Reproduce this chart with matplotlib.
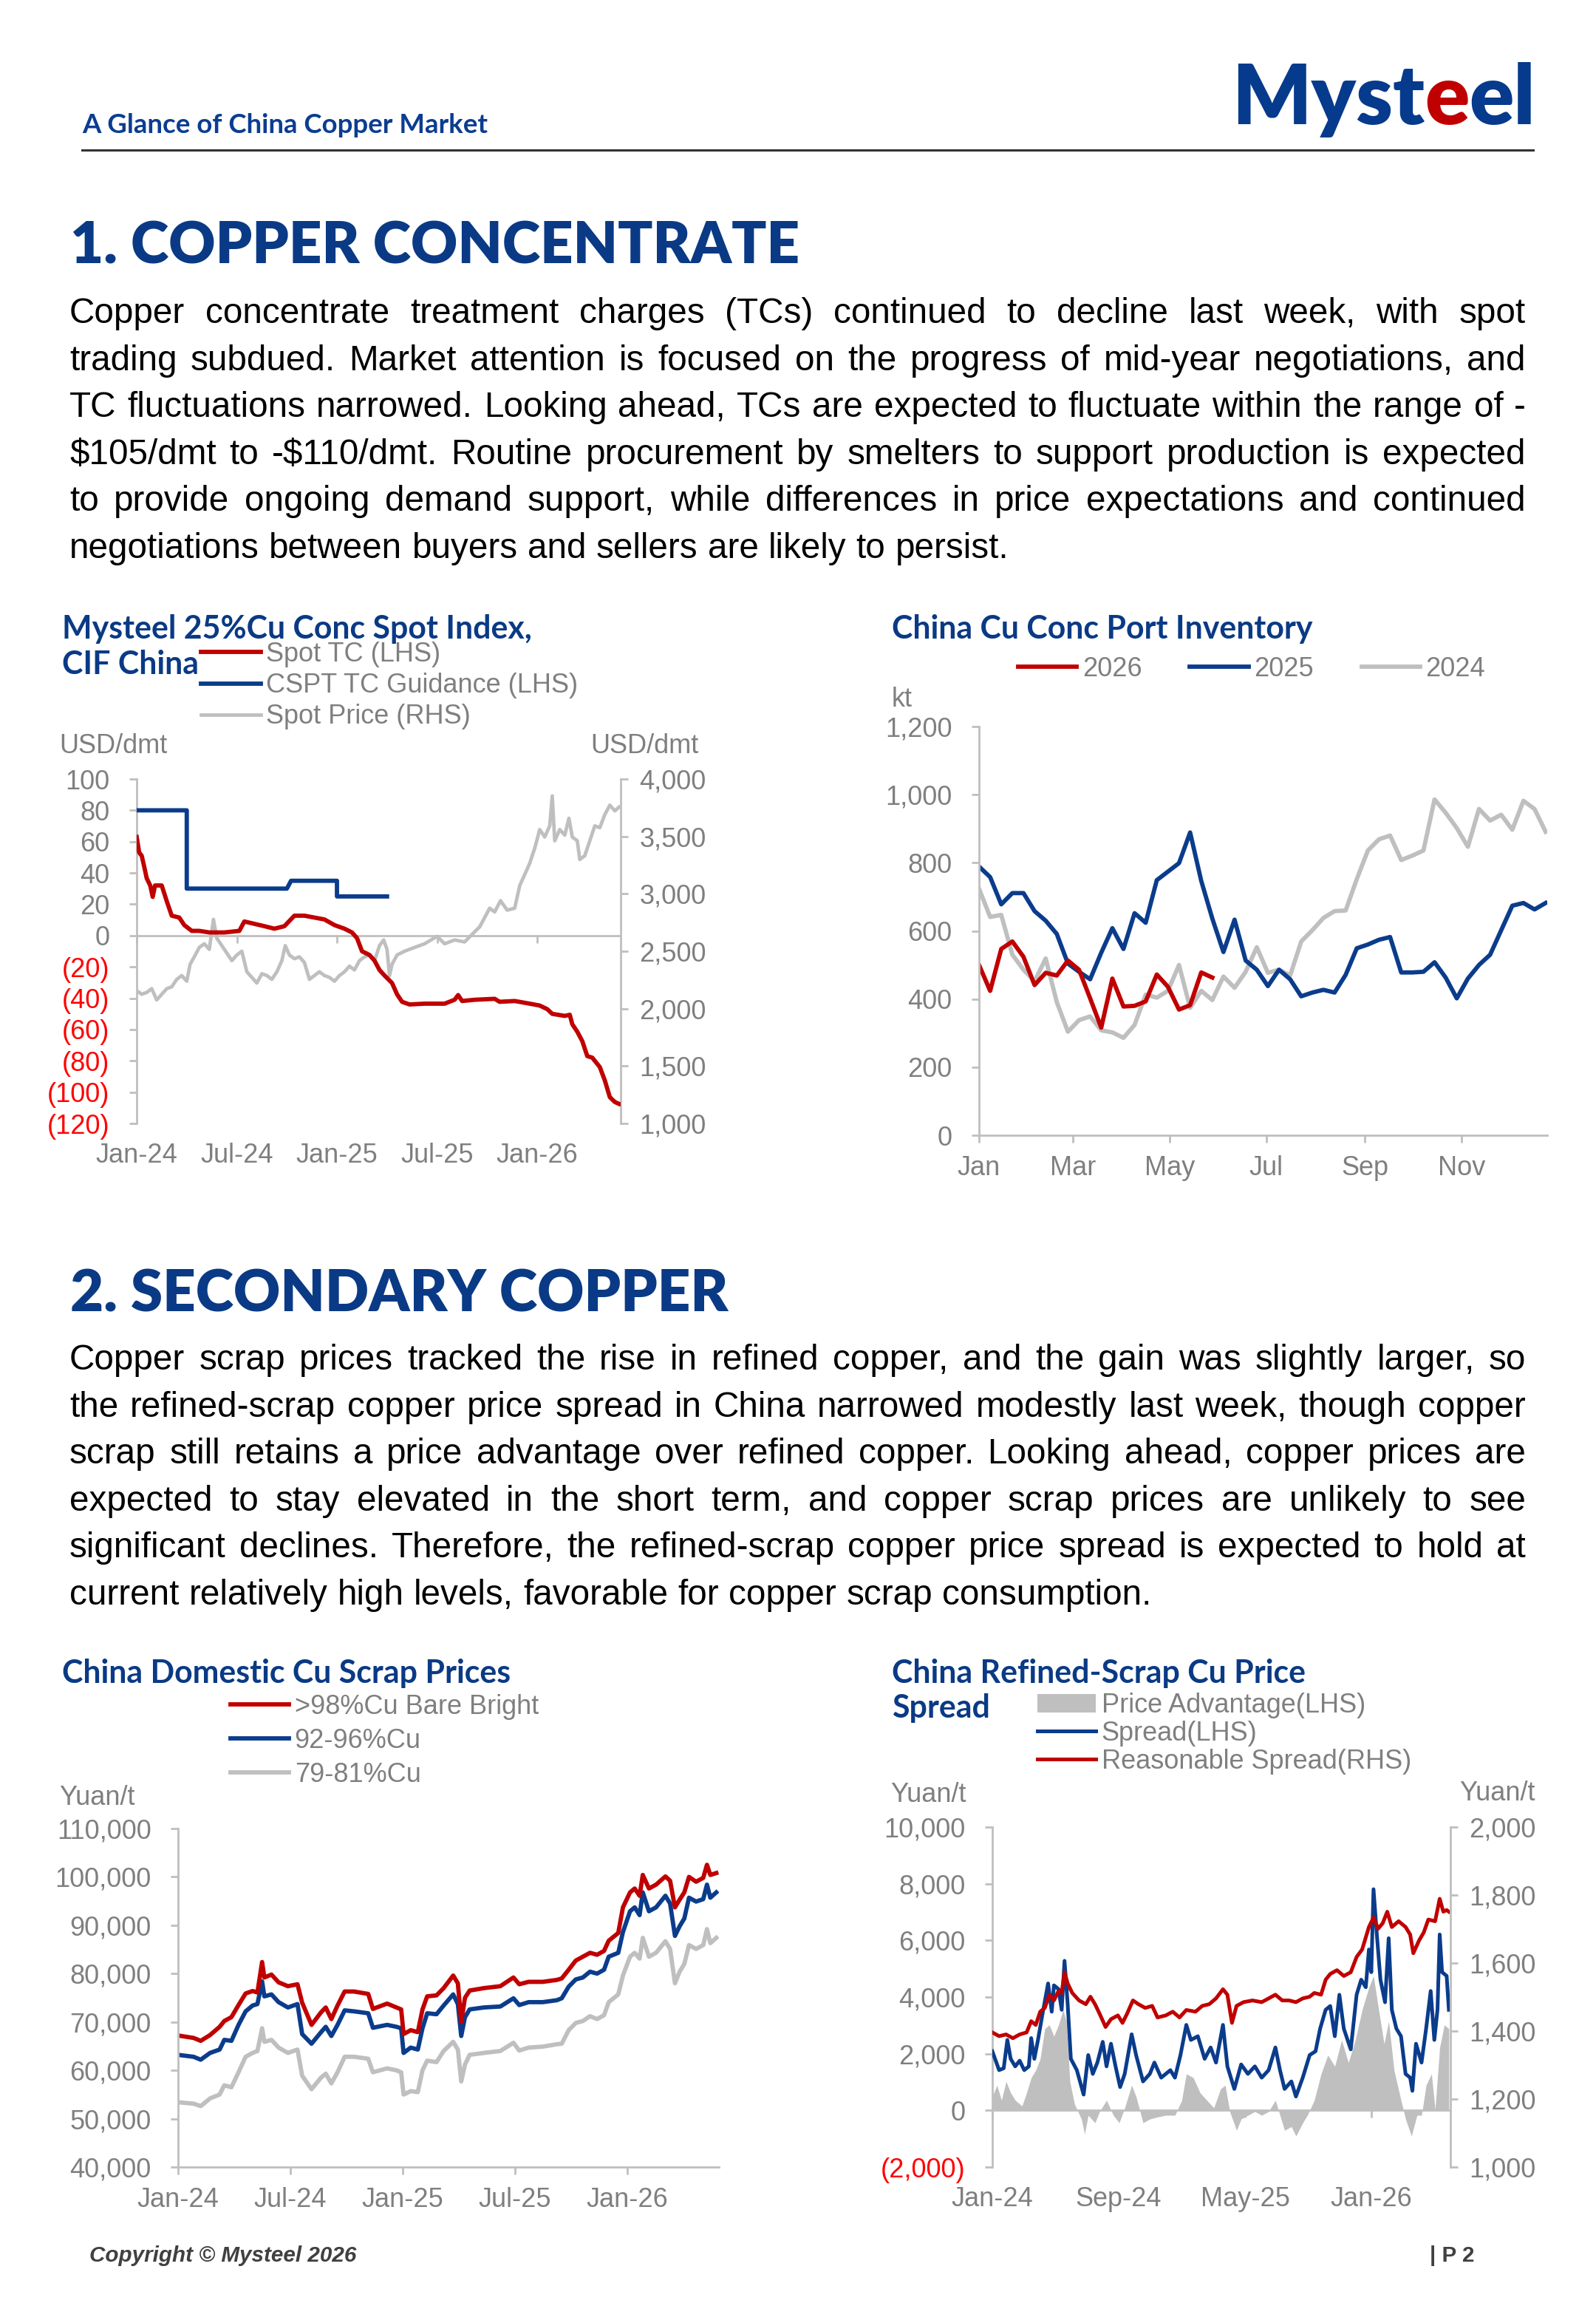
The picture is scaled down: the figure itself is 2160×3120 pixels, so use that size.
import numpy as np
import matplotlib
matplotlib.use('Agg')
from matplotlib import pyplot as plt
from matplotlib.patches import Patch

# ---------------- data ----------------
# chart 1: Mysteel 25%Cu conc spot index (x = months since Jan-24)
tc_month = [0, 0.15, 0.3, 0.45, 0.6, 0.81, 0.96, 1.1, 1.5, 1.8,
            2.1, 2.55, 2.85, 3.3, 3.75, 4.35, 5.25, 6.15, 6.45, 7.05,
            7.65, 8.25, 8.85, 9.45, 10.05, 10.65, 11.25, 11.85, 12.45, 12.9,
            13.2, 13.5, 13.95, 14.25, 14.55, 14.85, 15.3, 15.6, 15.9, 16.35,
            17.25, 18.45, 19.05, 19.26, 19.5, 20.25, 21.45, 21.75, 22.65, 23.55,
            24.15, 24.6, 24.9, 25.65, 25.95, 26.1, 26.4, 26.7, 27.0, 27.3,
            27.75, 28.05, 28.35, 28.65, 28.9]
spot_tc = [63, 53, 51, 44, 36.6, 32, 24.7, 32, 32, 22,
           12.7, 11.5, 6.7, 3, 3, 2, 2, 3, 9, 7.5,
           6, 4.4, 6, 12.7, 12.7, 11.5, 10.3, 6.7, 4.4, 2,
           -1.6, -10, -12.4, -16, -22, -25.5, -30.3, -37.5, -42.3, -44,
           -43.5, -43.5, -41, -38, -41.8, -41, -40.4, -42.3, -41.8, -43.5,
           -44.7, -47, -50, -51.3, -50.6, -56.6, -61.4, -67.4, -77, -78,
           -84, -92.5, -103.2, -106.3, -107.5]
cspt_month = [0, 3, 3, 9, 9.25, 12, 12, 15]
cspt_tc = [80, 80, 30, 30, 35, 35, 25, 25]
price_month = [0, 0.3, 0.6, 0.9, 1.2, 1.5, 1.8, 2.1, 2.4, 2.7,
               3.0, 3.2, 3.45, 3.75, 4.05, 4.35, 4.6, 4.8, 5.1, 5.4,
               5.7, 6.0, 6.3, 6.6, 6.9, 7.2, 7.5, 7.8, 8.1, 8.4,
               8.7, 8.9, 9.15, 9.45, 9.75, 10.05, 10.35, 10.65, 10.95, 11.25,
               11.55, 11.85, 12.15, 12.45, 12.75, 13.05, 13.35, 13.65, 13.95, 14.25,
               14.55, 14.8, 15.0, 15.15, 15.3, 15.6, 16.05, 16.65, 17.25, 18.0,
               18.45, 19.05, 19.65, 20.1, 20.55, 20.85, 21.15, 21.45, 21.8, 22.2,
               22.65, 22.95, 23.25, 23.55, 23.85, 24.15, 24.45, 24.75, 24.9, 25.05,
               25.35, 25.65, 25.9, 26.1, 26.4, 26.55, 26.85, 27.15, 27.45, 27.75,
               28.05, 28.35, 28.65, 28.9]
spot_price = [2157, 2125, 2141, 2174, 2076, 2125, 2174, 2190, 2255, 2288,
              2239, 2386, 2451, 2533, 2565, 2516, 2777, 2614, 2549, 2484,
              2418, 2467, 2500, 2321, 2272, 2223, 2304, 2288, 2255, 2321,
              2418, 2549, 2467, 2435, 2451, 2402, 2255, 2288, 2321, 2288,
              2272, 2239, 2288, 2321, 2370, 2337, 2418, 2451, 2467, 2418,
              2549, 2598, 2516, 2288, 2386, 2467, 2500, 2533, 2565, 2630,
              2565, 2598, 2581, 2647, 2712, 2793, 2875, 2842, 2940, 2858,
              2875, 3071, 3168, 3266, 3397, 3560, 3495, 3592, 3853, 3462,
              3560, 3511, 3658, 3495, 3462, 3299, 3332, 3462, 3592, 3576,
              3690, 3772, 3723, 3755]
tc_ticks = [100, 80, 60, 40, 20, 0, -20, -40, -60, -80, -100, -120]
price_ticks = [1000, 1500, 2000, 2500, 3000, 3500, 4000]
tc_xticks = [0, 6, 12, 18, 24]
tc_xlabels = ['Jan-24', 'Jul-24', 'Jan-25', 'Jul-25', 'Jan-26']

# chart 2: China Cu conc port inventory, weekly, kt
inv_2024 = [724, 641, 647, 530, 486, 452, 519, 391, 304, 338,
            349, 308, 302, 286, 324, 413, 404, 424, 500, 374,
            424, 397, 466, 433, 480, 552, 477, 486, 469, 569,
            602, 638, 658, 660, 752, 836, 869, 880, 808, 821,
            836, 986, 947, 902, 847, 958, 924, 941, 897, 982,
            958, 891]
inv_2025 = [789, 758, 678, 711, 711, 658, 630, 591, 504, 480,
            458, 536, 608, 547, 652, 624, 749, 774, 799, 889,
            747, 636, 538, 633, 513, 486, 438, 486, 458, 408,
            419, 427, 419, 471, 549, 560, 574, 582, 478, 478,
            480, 508, 463, 402, 460, 500, 530, 602, 674, 682,
            663, 682]
inv_2026 = [500, 424, 547, 569, 524, 441, 477, 469, 513, 486,
            402, 316, 460, 378, 380, 393, 472, 436, 369, 382,
            478, 463]
inv_ticks = [0, 200, 400, 600, 800, 1000, 1200]
month_days = [0, 59, 120, 181, 243, 304]
month_names = ['Jan', 'Mar', 'May', 'Jul', 'Sep', 'Nov']

# chart 3: China domestic Cu scrap prices, thousand yuan/t
scrap_month = [0, 0.83, 1.21, 1.71, 2.22, 2.47, 2.85, 3.23, 3.61, 3.98,
               4.24, 4.49, 4.61, 4.99, 5.37, 5.87, 6.38, 6.63, 7.13, 7.64,
               7.89, 8.19, 8.52, 8.9, 9.4, 10.16, 10.41, 11.17, 11.67, 11.92,
               12.05, 12.43, 12.81, 13.06, 13.31, 13.81, 14.19, 14.7, 14.95, 15.13,
               15.33, 15.58, 16.34, 17.22, 17.92, 18.23, 18.73, 19.49, 20.24, 20.5,
               20.87, 21.25, 21.63, 22.01, 22.39, 22.76, 23.01, 23.52, 23.77, 24.15,
               24.4, 24.66, 24.83, 25.16, 25.54, 26.04, 26.29, 26.55, 26.8, 27.05,
               27.3, 27.68, 28.06, 28.26, 28.44, 28.76]
bare_bright = [67.2, 66.7, 66.1, 67.3, 69.0, 70.2, 71.0, 73.5, 75.9, 76.4,
               76.1, 82.4, 79.2, 79.8, 78.2, 77.4, 77.8, 74.0, 69.4, 72.0,
               73.0, 70.6, 73.4, 76.3, 76.3, 75.8, 72.7, 73.8, 73.0, 72.6,
               67.5, 68.3, 67.9, 72.6, 75.3, 75.5, 77.0, 79.6, 78.0, 70.0,
               75.0, 76.5, 77.0, 77.4, 79.2, 77.8, 78.3, 78.3, 78.7, 79.0,
               80.8, 82.7, 83.5, 84.3, 83.9, 84.7, 86.8, 88.4, 93.7, 96.8,
               97.6, 96.1, 100.4, 97.6, 98.4, 100.1, 99.2, 93.7, 95.3, 96.8,
               100.0, 99.0, 99.8, 102.5, 100.4, 100.8]
cu_92_96 = [63.2, 62.8, 62.2, 63.6, 64.3, 66.3, 66.1, 69.4, 72.2, 73.4,
            73.7, 78.4, 75.3, 75.7, 74.1, 73.0, 73.7, 67.5, 65.5, 67.9,
            69.0, 67.1, 69.4, 72.4, 72.2, 71.8, 68.8, 69.4, 69.0, 68.7,
            63.6, 64.7, 64.3, 68.7, 71.8, 71.6, 73.4, 75.7, 73.7, 67.1,
            71.0, 72.6, 73.0, 73.2, 74.9, 73.5, 74.1, 74.1, 74.5, 74.9,
            77.3, 78.8, 79.2, 80.4, 80.0, 80.8, 83.5, 84.3, 88.6, 92.9,
            93.7, 92.1, 96.8, 92.9, 93.7, 96.1, 94.5, 87.8, 89.8, 91.4,
            95.7, 94.9, 95.4, 98.4, 95.7, 96.8]
cu_79_81 = [53.4, 53.1, 52.6, 54.2, 55.0, 56.9, 56.5, 59.6, 62.8, 63.6,
            64.0, 68.7, 65.9, 66.3, 64.7, 63.6, 64.3, 58.9, 56.1, 58.5,
            59.3, 57.3, 59.6, 62.8, 62.8, 62.4, 59.6, 60.4, 60.0, 59.6,
            55.0, 55.7, 55.5, 60.0, 62.0, 61.7, 64.0, 65.9, 64.3, 57.7,
            61.2, 63.2, 63.6, 64.0, 65.7, 64.1, 64.7, 64.9, 65.4, 65.5,
            68.3, 69.8, 70.2, 71.2, 70.6, 71.4, 74.1, 75.7, 79.6, 83.5,
            84.3, 83.1, 87.4, 83.5, 84.3, 86.7, 85.1, 78.0, 80.4, 82.0,
            85.9, 85.1, 85.9, 89.2, 86.3, 87.4]
scrap_ticks = [40, 50, 60, 70, 80, 90, 100, 110]
scrap_xticks = [0, 6, 12, 18, 24]
scrap_xlabels = ['Jan-24', 'Jul-24', 'Jan-25', 'Jul-25', 'Jan-26']

# chart 4: refined-scrap price spread, yuan/t
spread_month = [0, 0.43, 0.72, 0.95, 1.16, 1.45, 1.73, 2.02, 2.31, 2.46,
                2.66, 2.89, 3.18, 3.53, 3.76, 3.9, 4.19, 4.39, 4.57, 4.77,
                4.97, 5.35, 5.78, 6.07, 6.36, 6.65, 6.99, 7.23, 7.51, 7.8,
                8.09, 8.38, 8.82, 9.1, 9.54, 9.97, 10.26, 10.69, 11.27, 11.56,
                11.91, 12.28, 12.57, 13.01, 13.44, 13.82, 14.16, 14.6, 14.88, 15.32,
                15.75, 16.18, 16.62, 17.05, 17.49, 17.92, 18.21, 18.5, 18.93, 19.22,
                19.65, 20.09, 20.46, 20.75, 21.1, 21.39, 21.68, 21.97, 22.25, 22.69,
                23.06, 23.35, 23.64, 23.84, 23.99, 24.13, 24.34, 24.57, 24.86, 25.09,
                25.29, 25.58, 25.87, 26.16, 26.45, 26.59, 26.82, 27.17, 27.46, 27.75,
                27.98, 28.18, 28.32, 28.47, 28.76, 28.9]
spread = [2086, 1420, 1488, 2486, 1820, 1554, 1754, 1420, 1554, 2552,
          1820, 2486, 3417, 4480, 3483, 4413, 4280, 3550, 5278, 3750,
          1820, 1420, 557, 1953, 1288, 1688, 2419, 1554, 2353, 1554,
          823, 1288, 2685, 1953, 1022, 1288, 1688, 1155, 1420, 1155,
          1953, 3017, 2486, 2618, 1820, 2220, 1688, 3017, 1554, 757,
          1621, 1288, 1554, 1155, 1420, 2220, 1420, 757, 1022, 490,
          1155, 1953, 2086, 2884, 3550, 3683, 2618, 4081, 2884, 2153,
          4081, 4613, 4347, 5678, 4879, 7806, 6210, 4613, 3816, 6077,
          3550, 2884, 2618, 1288, 1155, 690, 2353, 1688, 2884, 4214,
          2486, 3550, 6210, 4879, 4746, 3550]
adv_month = [0, 0.29, 0.58, 0.87, 1.16, 1.45, 1.88, 2.17, 2.46, 2.75,
             3.03, 3.32, 3.61, 3.9, 4.19, 4.48, 4.68, 4.91, 5.2, 5.64,
             5.84, 6.07, 6.5, 6.79, 7.23, 7.66, 8.03, 8.38, 8.82, 9.1,
             9.54, 9.97, 10.4, 10.98, 11.56, 11.99, 12.28, 12.72, 13.15, 13.58,
             14.02, 14.45, 14.74, 15.03, 15.46, 15.75, 16.18, 16.62, 17.05, 17.49,
             17.92, 18.21, 18.5, 18.93, 19.22, 19.65, 19.94, 20.38, 20.81, 21.24,
             21.68, 22.11, 22.54, 22.98, 23.41, 23.84, 24.13, 24.42, 24.8, 25.09,
             25.43, 25.87, 26.16, 26.53, 26.88, 27.17, 27.46, 27.8, 28.03, 28.32,
             28.61, 28.9]
advantage = [490, 890, 357, 1022, 623, 357, 157, 623, 1155, 1420,
             1820, 2884, 3017, 2618, 3017, 3550, 3150, 1022, 224, -306,
             -838, -173, -439, -40, 357, -173, -439, 90, 890, 490,
             -439, -306, -240, -173, -173, 357, 1288, 1155, 623, 357,
             90, 757, 890, -40, -705, -306, -173, -40, -173, -40,
             357, -173, -705, -572, -905, -439, -173, 357, 1288, 1953,
             1554, 2486, 1688, 2486, 3550, 4347, 4746, 3683, 2353, 3150,
             1420, 357, -306, -905, -173, -173, 890, 1288, 27, 2220,
             3017, 2884]
reas_month = [0, 0.43, 0.87, 1.3, 1.73, 2.17, 2.46, 2.75, 3.03, 3.32,
              3.61, 3.9, 4.19, 4.39, 4.57, 4.77, 5.06, 5.49, 5.92, 6.21,
              6.5, 6.79, 7.17, 7.51, 7.95, 8.24, 8.53, 8.9, 9.25, 9.68,
              10.12, 10.46, 10.98, 11.42, 11.85, 12.28, 12.86, 13.29, 13.73, 14.16,
              14.6, 14.88, 15.17, 15.46, 15.9, 16.47, 17.05, 17.49, 17.92, 18.35,
              18.79, 19.22, 19.65, 20.09, 20.38, 20.81, 21.1, 21.39, 21.82, 22.25,
              22.69, 23.06, 23.41, 23.84, 24.13, 24.42, 24.71, 25.0, 25.29, 25.72,
              26.16, 26.45, 26.65, 27.02, 27.31, 27.6, 28.03, 28.32, 28.55, 28.76,
              28.9]
reasonable = [1396, 1385, 1390, 1379, 1390, 1396, 1429, 1418, 1457, 1468,
              1507, 1490, 1518, 1512, 1573, 1540, 1512, 1490, 1479, 1501,
              1479, 1451, 1412, 1435, 1446, 1424, 1451, 1490, 1479, 1468,
              1474, 1440, 1446, 1457, 1440, 1462, 1457, 1474, 1479, 1496,
              1523, 1507, 1424, 1474, 1485, 1490, 1485, 1496, 1507, 1490,
              1490, 1485, 1496, 1501, 1512, 1507, 1551, 1568, 1579, 1562,
              1573, 1618, 1640, 1706, 1734, 1701, 1717, 1751, 1706, 1723,
              1706, 1684, 1629, 1667, 1690, 1728, 1723, 1789, 1751, 1756,
              1751]
spread_ticks = [-2000, 0, 2000, 4000, 6000, 8000, 10000]
reas_ticks = [1000, 1200, 1400, 1600, 1800, 2000]
spread_xticks = [0, 8, 16, 24]
spread_xlabels = ['Jan-24', 'Sep-24', 'May-25', 'Jan-26']

para1 = ["Copper concentrate treatment charges (TCs) continued to decline last week, with spot",
         "trading subdued. Market attention is focused on the progress of mid-year negotiations, and",
         "TC fluctuations narrowed. Looking ahead, TCs are expected to fluctuate within the range of -",
         "$105/dmt to -$110/dmt. Routine procurement by smelters to support production is expected",
         "to provide ongoing demand support, while differences in price expectations and continued",
         "negotiations between buyers and sellers are likely to persist."]
para2 = ["Copper scrap prices tracked the rise in refined copper, and the gain was slightly larger, so",
         "the refined-scrap copper price spread in China narrowed modestly last week, though copper",
         "scrap still retains a price advantage over refined copper. Looking ahead, copper prices are",
         "expected to stay elevated in the short term, and copper scrap prices are unlikely to see",
         "significant declines. Therefore, the refined-scrap copper price spread is expected to hold at",
         "current relatively high levels, favorable for copper scrap consumption."]

# ---------------- style ----------------
W, H = 2160, 3120
NAVY = '#0A3A85'
RED = '#C00000'
BLUE = '#0B3C8C'
LGREY = '#BFBFBF'
TGREY = '#7F7F7F'
BODY = 'Liberation Sans'
HEAD = 'Lato'
FS = 26  # chart text size, pt
LW = 4.2

plt.rcParams['font.family'] = ['Liberation Sans', 'DejaVu Sans']

fig = plt.figure(figsize=(W / 100, H / 100), dpi=100)
ov = fig.add_axes([0, 0, 1, 1])
ov.set_xlim(0, W)
ov.set_ylim(H, 0)
ov.axis('off')
r = fig.canvas.get_renderer()


def width_of(t):
    return t.get_window_extent(r).width


def measure(s, fs=10, **kw):
    t = ov.text(0, 0, s, fontsize=fs, parse_math=False, **kw)
    w = width_of(t)
    t.remove()
    return w


def fit(s, width, **kw):
    return 10 * width / measure(s, **kw)


def put(x, y, s, fs, cap=0.72, **kw):
    # y is the middle of the capitals
    return ov.text(x, y + cap * fs * 100 / 72 / 2, s, fontsize=fs, va='baseline',
                   parse_math=False, **kw)


def paragraph(lines, y0, step, fs, x0=94, x1=2065):
    sp = measure('a a', fs, family=BODY) - measure('aa', fs, family=BODY)
    for i, line in enumerate(lines):
        words = [put(0, y0 + i * step, w, fs, cap=0.716, family=BODY, color='black')
                 for w in line.split()]
        ws = [width_of(t) for t in words]
        gap = sp if i == len(lines) - 1 else (x1 - x0 - sum(ws)) / (len(words) - 1)
        x = x0
        for t, w in zip(words, ws):
            t.set_x(x)
            x += w + gap


def fmt(v):
    return f'({abs(v):,})' if v < 0 else f'{v:,}'


def chart_ax(x0, x1, y0, y1):
    return fig.add_axes([x0 / W, 1 - y1 / H, (x1 - x0) / W, (y1 - y0) / H])


def y_axis(ax, side, ticks, labels, pad):
    for s in ax.spines.values():
        s.set_visible(False)
    ax.spines[side].set_visible(True)
    ax.spines[side].set_color(LGREY)
    ax.spines[side].set_linewidth(2)
    ax.set_yticks(ticks)
    ax.set_yticklabels(labels)
    ax.tick_params(axis='y', length=7.2, width=2, color=LGREY, labelcolor=TGREY,
                   labelsize=FS, pad=pad)
    for lab, v in zip(ax.get_yticklabels(), ticks):
        if v < 0:
            lab.set_color('#FF0000')


def x_axis(ax, ticks, labels, spine=True):
    ax.set_xticks(ticks)
    ax.set_xticklabels(labels)
    if spine:
        ax.spines['bottom'].set_visible(True)
        ax.spines['bottom'].set_color(LGREY)
        ax.spines['bottom'].set_linewidth(2)
        ax.tick_params(axis='x', length=7.2, width=2, color=LGREY, labelcolor=TGREY,
                       labelsize=FS, pad=12)
    else:
        ax.tick_params(axis='x', length=0, labelcolor=TGREY, labelsize=FS, pad=19)


def zero_line(ax, ticks):
    ax.axhline(0, color=LGREY, lw=2, zorder=1)
    ax.plot(ticks, [0] * len(ticks), ls='none', marker=3, ms=7.2, mew=2,
            color=LGREY, clip_on=False, zorder=1)


# ---------------- page text ----------------
put(111, 167, 'A Glance of China Copper Market',
    fit('A Glance of China Copper Market', 551, family=HEAD, weight='bold'),
    family=HEAD, weight='bold', color='#0B3D91')

fs_logo = fit('Mysteel', 414, family=HEAD, weight='heavy')
x = 1667
for part, c in [('Myst', '#063A8C'), ('e', RED), ('el', '#063A8C')]:
    t = ov.text(x, 168, part, fontsize=fs_logo, family=HEAD, weight='heavy', color=c, va='baseline')
    x += width_of(t)

ov.plot([111, 2075], [203, 203], color='#333333', lw=2.2)

fs_h = fit('1. COPPER CONCENTRATE', 985, family=HEAD, weight='heavy')
put(95, 328, '1. COPPER CONCENTRATE', fs_h, family=HEAD, weight='heavy', color=NAVY)
put(95, 1746, '2. SECONDARY COPPER', fs_h, family=HEAD, weight='heavy', color=NAVY)

fs_body = fit(para1[-1], 1273, family=BODY)
paragraph(para1, 420, 63.6, fs_body)
paragraph(para2, 1836, 63.6, fs_body)

fs_t = fit('China Cu Conc Port Inventory', 571, family=HEAD, weight='bold')
tkw = dict(family=HEAD, weight='bold', color=NAVY)
put(84, 849, 'Mysteel 25%Cu Conc Spot Index,', fs_t, **tkw)
put(84, 897, 'CIF China', fs_t, **tkw)
put(1207, 849, 'China Cu Conc Port Inventory', fs_t, **tkw)
put(84, 2262, 'China Domestic Cu Scrap Prices', fs_t, **tkw)
put(1207, 2262, 'China Refined-Scrap Cu Price', fs_t, **tkw)
put(1207, 2309, 'Spread', fs_t, **tkw)

put(80, 1006, 'USD/dmt', FS, cap=0.716, color=TGREY)
put(945, 1006, 'USD/dmt', FS, cap=0.716, color=TGREY, ha='right')
put(1207, 943, 'kt', FS, cap=0.716, color=TGREY)
put(80, 2429, 'Yuan/t', FS, cap=0.716, color=TGREY)
put(1205, 2425, 'Yuan/t', FS, cap=0.716, color=TGREY)
put(2078, 2423, 'Yuan/t', FS, cap=0.716, color=TGREY, ha='right')

fs_f = fit('Copyright © Mysteel 2026', 362, family=BODY, weight='bold', style='italic')
put(121, 3049, 'Copyright © Mysteel 2026', fs_f, family=BODY, weight='bold', style='italic', color='#404040')
put(1935, 3049, '| P 2', fs_f, family=BODY, weight='bold', color='#404040')

leg_kw = dict(loc='upper left', bbox_transform=ov.transData, frameon=False, borderpad=0,
              borderaxespad=0, fontsize=FS, labelcolor=TGREY, handletextpad=0.2)

# ---------------- chart 1 ----------------
ax1 = chart_ax(185, 840, 1054, 1520)
ax1r = ax1.twinx()
ax1.set_zorder(ax1r.get_zorder() + 1)
ax1.patch.set_visible(False)
l_tc, = ax1.plot(tc_month, spot_tc, color=RED, lw=LW, zorder=3)
l_cs, = ax1.plot(cspt_month, cspt_tc, color=BLUE, lw=LW, zorder=3)
l_px, = ax1r.plot(price_month, spot_price, color=LGREY, lw=3.4)
ax1.set_xlim(0, 29)
ax1.set_ylim(-120, 100)
ax1r.set_ylim(1000, 4000)
y_axis(ax1, 'left', tc_ticks, [fmt(v) for v in tc_ticks], 19)
y_axis(ax1r, 'right', price_ticks, [fmt(v) for v in price_ticks], 11)
x_axis(ax1, tc_xticks, tc_xlabels, spine=False)
zero_line(ax1, tc_xticks)
fig.legend([l_tc, l_cs, l_px], ['Spot TC (LHS)', 'CSPT TC Guidance (LHS)', 'Spot Price (RHS)'],
           bbox_to_anchor=(272, 868), handlelength=2.25, labelspacing=0.2, **leg_kw)

# ---------------- chart 2 ----------------
ax2 = chart_ax(1325, 2094, 983, 1536)
week_day = np.arange(52) * 7
l24, = ax2.plot(week_day, inv_2024, color=LGREY, lw=LW)
l25, = ax2.plot(week_day, inv_2025, color=BLUE, lw=LW)
l26, = ax2.plot(week_day[:len(inv_2026)], inv_2026, color=RED, lw=LW)
ax2.set_xlim(0, 358)
ax2.set_ylim(0, 1200)
y_axis(ax2, 'left', inv_ticks, [fmt(v) for v in inv_ticks], 19)
x_axis(ax2, month_days, month_names)
fig.legend([l26, l25, l24], ['2026', '2025', '2024'], ncol=3, bbox_to_anchor=(1378, 888),
           handlelength=2.2, columnspacing=1.8, **leg_kw)

# ---------------- chart 3 ----------------
ax3 = chart_ax(241, 973, 2474, 2932)
s1, = ax3.plot(scrap_month, cu_79_81, color=LGREY, lw=LW)
s2, = ax3.plot(scrap_month, cu_92_96, color=BLUE, lw=LW)
s3, = ax3.plot(scrap_month, bare_bright, color=RED, lw=LW)
ax3.set_xlim(0, 28.9)
ax3.set_ylim(40, 110)
y_axis(ax3, 'left', scrap_ticks, [fmt(v * 1000) for v in scrap_ticks], 19)
x_axis(ax3, scrap_xticks, scrap_xlabels)
fig.legend([s3, s2, s1], ['>98%Cu Bare Bright', '92-96%Cu', '79-81%Cu'],
           bbox_to_anchor=(312, 2292), handlelength=2.2, labelspacing=0.3, **leg_kw)

# ---------------- chart 4 ----------------
ax4 = chart_ax(1343, 1963, 2472, 2932)
ax4r = ax4.twinx()
ax4.fill_between(adv_month, 0, advantage, color=LGREY, lw=0, zorder=1)
b4, = ax4.plot(spread_month, spread, color=BLUE, lw=3.6, zorder=3)
r4, = ax4r.plot(reas_month, reasonable, color=RED, lw=3.6)
ax4.set_xlim(0, 29)
ax4.set_ylim(-2000, 10000)
ax4r.set_ylim(1000, 2000)
y_axis(ax4, 'left', spread_ticks, [fmt(v) for v in spread_ticks], 19)
y_axis(ax4r, 'right', reas_ticks, [fmt(v) for v in reas_ticks], 11)
x_axis(ax4, spread_xticks, spread_xlabels, spine=False)
zero_line(ax4, spread_xticks)
fig.legend([Patch(facecolor=LGREY), b4, r4],
           ['Price Advantage(LHS)', 'Spread(LHS)', 'Reasonable Spread(RHS)'],
           bbox_to_anchor=(1404, 2290), handlelength=2.2, labelspacing=0.08, **leg_kw)

fig.savefig('out.png', dpi=100, facecolor='white')
